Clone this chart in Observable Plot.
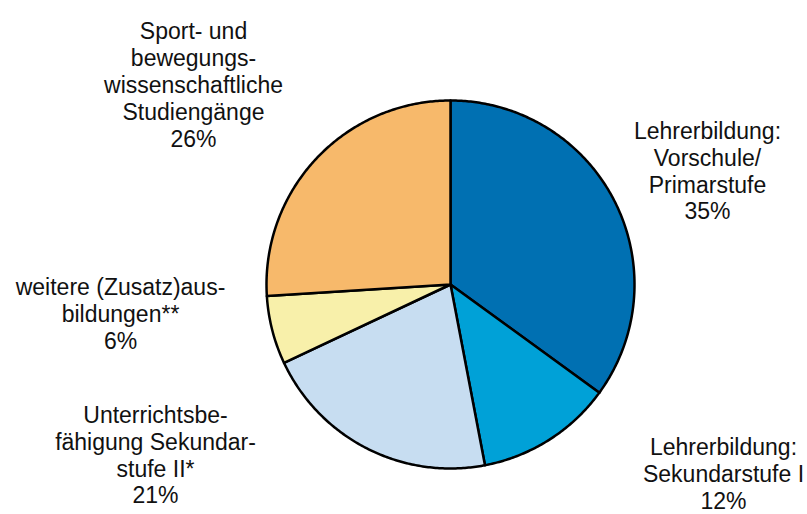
<!DOCTYPE html>
<html><head><meta charset="utf-8">
<script src="https://cdn.jsdelivr.net/npm/d3@7"></script>
<script src="https://cdn.jsdelivr.net/npm/@observablehq/plot@0.6"></script>
<style>body{margin:0;background:#fff}</style>
</head><body><div id="chart"></div>
<script>
const categories = [
  "Lehrerbildung:\nVorschule/\nPrimarstufe",
  "Lehrerbildung:\nSekundarstufe I",
  "Unterrichtsbe-\nfähigung Sekundar-\nstufe II*",
  "weitere (Zusatz)aus-\nbildungen**",
  "Sport- und\nbewegungs-\nwissenschaftliche\nStudiengänge"
];
const shares = [35, 12, 21, 6, 26];
const colors = ["#0070b2", "#00a1d7", "#c7ddf1", "#f8f0aa", "#f7b96b"];
// label centre positions in pixels (layout)
const labelPx = [[707, 170], [723, 473], [155, 454], [120, 313], [193, 84]];

const W = 807, H = 514, R = 184, CX = 450, CY = 284;
const total = d3.sum(shares);
const slices = [];
let acc = 0;
shares.forEach((v, i) => {
  const a0 = acc / total * 2 * Math.PI;
  acc += v;
  const a1 = acc / total * 2 * Math.PI;
  const pts = [{x: 0, y: 0}];
  const n = Math.max(2, Math.ceil((a1 - a0) / 0.01));
  for (let j = 0; j <= n; j++) {
    const a = a0 + (a1 - a0) * j / n;
    pts.push({x: Math.sin(a), y: Math.cos(a)});
  }
  pts.push({x: 0, y: 0});
  slices.push(pts);
});
const labelData = categories.map((c, i) => ({
  text: c + "\n" + shares[i] + "%",
  x: (labelPx[i][0] - CX) / R,
  y: (CY - labelPx[i][1]) / R
}));

const chart = Plot.plot({
  width: W, height: H,
  margin: 0,
  x: {domain: [-CX / R, (W - CX) / R], range: [0, W], axis: null},
  y: {domain: [-(H - CY) / R, CY / R], range: [H, 0], axis: null},
  style: {fontFamily: "'Liberation Sans', Arial, Helvetica, sans-serif", background: "#fff"},
  marks: [
    ...slices.map((pts, i) => Plot.line(pts, {
      x: "x", y: "y", fill: colors[i], stroke: "#000", strokeWidth: 2.5,
      strokeLinejoin: "round", curve: "linear"
    })),
    Plot.text(labelData, {
      x: "x", y: "y", text: "text", fontSize: 23, lineHeight: 1.17,
      textAnchor: "middle", lineAnchor: "middle", fill: "#111"
    })
  ]
});
document.getElementById("chart").appendChild(chart);
</script>
</body></html>
